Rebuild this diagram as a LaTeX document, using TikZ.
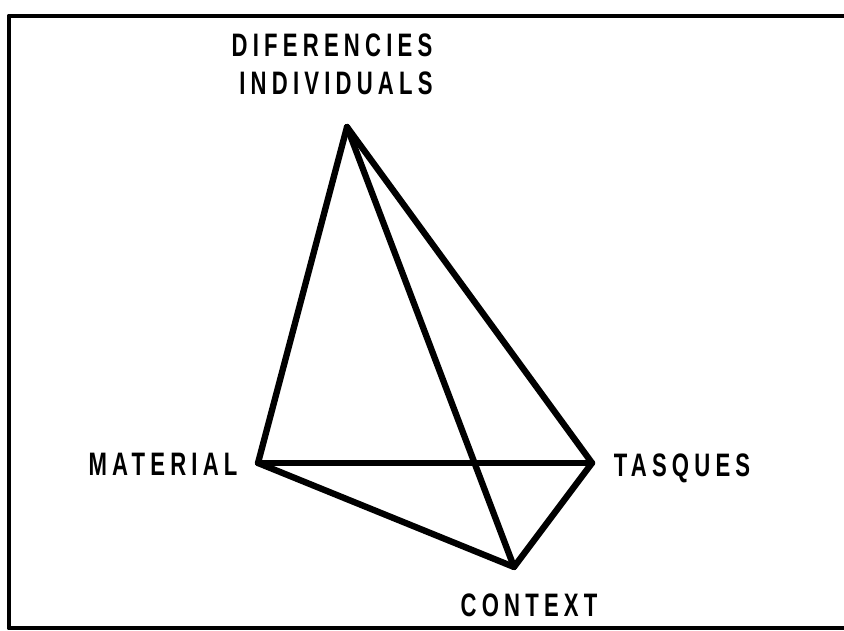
\documentclass[tikz,border=0pt]{standalone}
\usepackage{fontspec}
\setmainfont{Liberation Sans}[FakeStretch=0.68,LetterSpace=16]
\usetikzlibrary{positioning}

\begin{document}
\begin{tikzpicture}[x=0.02cm,y=-0.02cm,line width=3.3pt,line join=round,line cap=round]
\tikzset{lbl/.style={inner sep=0pt,anchor=base,font=\fontsize{18.5pt}{20pt}\selectfont\bfseries},
  edge/.style={line width=3.6pt}}
\useasboundingbox (0,0) rectangle (844,631);
% ---- frame (open at the right) ----
\draw[line width=2.8pt,line cap=butt] (850,16) -- (9,16) -- (9,628) -- (850,628);
% ---- corners of the tetrahedron ----
\coordinate (dif) at (347,127);
\coordinate (mat) at (258,463);
\coordinate (tas) at (592,463);
\coordinate (ctx) at (514,567);
% ---- labels ----
\node[lbl] (difA) at (332,57) {DIFERENCIES};
\node[lbl] (difB) at (336,95) {INDIVIDUALS};
\node[lbl] (matL) at (163,475) {MATERIAL};
\node[lbl] (tasL) at (682,476) {TASQUES};
\node[lbl] (ctxL) at (529,616) {CONTEXT};
% ---- edges ----
\draw[edge] (dif) -- (mat);
\draw[edge] (dif) -- (ctx);
\draw[edge] (dif) -- (tas);
\draw[edge] (mat) -- (tas);
\draw[edge] (mat) -- (ctx);
\draw[edge] (tas) -- (ctx);
\end{tikzpicture}
\end{document}
